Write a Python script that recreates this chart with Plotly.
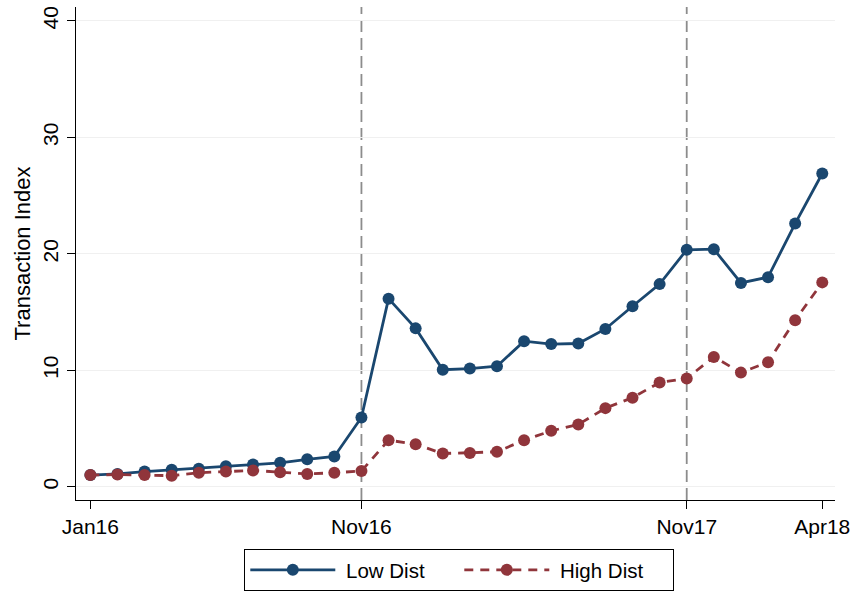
import plotly.graph_objects as go

# Monthly periods, Jan 2016 through Apr 2018
months = ["Jan16", "Feb16", "Mar16", "Apr16", "May16", "Jun16", "Jul16", "Aug16",
          "Sep16", "Oct16", "Nov16", "Dec16", "Jan17", "Feb17", "Mar17", "Apr17",
          "May17", "Jun17", "Jul17", "Aug17", "Sep17", "Oct17", "Nov17", "Dec17",
          "Jan18", "Feb18", "Mar18", "Apr18"]

low_dist = [1.0, 1.1, 1.3, 1.45, 1.55, 1.75, 1.9, 2.05, 2.35, 2.6, 5.95,
            16.15, 13.6, 10.05, 10.15, 10.35, 12.5, 12.25, 12.3, 13.55, 15.5, 17.4,
            20.35, 20.4, 17.5, 18.0, 22.6, 26.9]

high_dist = [1.0, 1.05, 1.0, 0.95, 1.2, 1.3, 1.4, 1.25, 1.1, 1.2, 1.35,
             4.0, 3.65, 2.85, 2.9, 3.0, 4.0, 4.8, 5.35, 6.75, 7.65, 8.95,
             9.3, 11.15, 9.8, 10.7, 14.3, 17.55]

tick_labels = ["Jan16", "Nov16", "Nov17", "Apr18"]
event_months = ["Nov16", "Nov17"]
y_ticks = [0, 10, 20, 30, 40]

x = list(range(len(months)))
tick_pos = [months.index(m) for m in tick_labels]

NAVY = "#1a476f"
MAROON = "#90353b"
FONT = "Liberation Sans, Arial, Helvetica, sans-serif"

fig = go.Figure()
fig.add_trace(go.Scatter(
    x=x, y=low_dist, name="\u00a0Low Dist", mode="lines+markers",
    line=dict(color=NAVY, width=2.8),
    marker=dict(color=NAVY, size=12),
))
fig.add_trace(go.Scatter(
    x=x, y=high_dist, name="\u00a0High Dist", mode="lines+markers",
    line=dict(color=MAROON, width=2.8, dash="9px,7px"),
    marker=dict(color=MAROON, size=12),
))

# Dashed reference lines at the event months
for m in event_months:
    fig.add_shape(type="line", xref="x", yref="paper",
                  x0=months.index(m), x1=months.index(m), y0=0, y1=1,
                  line=dict(color="#8c8c8c", width=1.8, dash="12px,6px"),
                  layer="below")

fig.update_layout(
    width=856, height=591,
    margin=dict(l=76, r=16, t=6, b=91),
    paper_bgcolor="white", plot_bgcolor="white",
    font=dict(family=FONT, size=20, color="black"),
    showlegend=True,
    legend=dict(
        orientation="h", x=0.505, xanchor="center",
        yref="container", y=0.0, yanchor="bottom",
        bordercolor="black", borderwidth=1, bgcolor="white",
        font=dict(size=20.5), itemwidth=85, entrywidth=114, tracegroupgap=0,
    ),
    xaxis=dict(
        range=[-0.53, 27.47], tickmode="array", tickvals=tick_pos, ticktext=tick_labels,
        showgrid=False, zeroline=False, showline=True, linecolor="black", linewidth=1.3,
        ticks="outside", ticklen=8, tickcolor="black", tickwidth=1.3,
        tickfont=dict(size=21),
    ),
    yaxis=dict(
        range=[-1.14, 41.2], tickmode="array", tickvals=y_ticks,
        showgrid=True, gridcolor="#f0f0f0", gridwidth=1, zeroline=False,
        showline=True, linecolor="black", linewidth=1.3,
        ticks="outside", ticklen=8, tickcolor="black", tickwidth=1.3,
        tickangle=-90, tickfont=dict(size=21), ticklabelstandoff=0,
        title=dict(text="Transaction Index", font=dict(size=22), standoff=2),
    ),
)

fig.write_html("out.html")
